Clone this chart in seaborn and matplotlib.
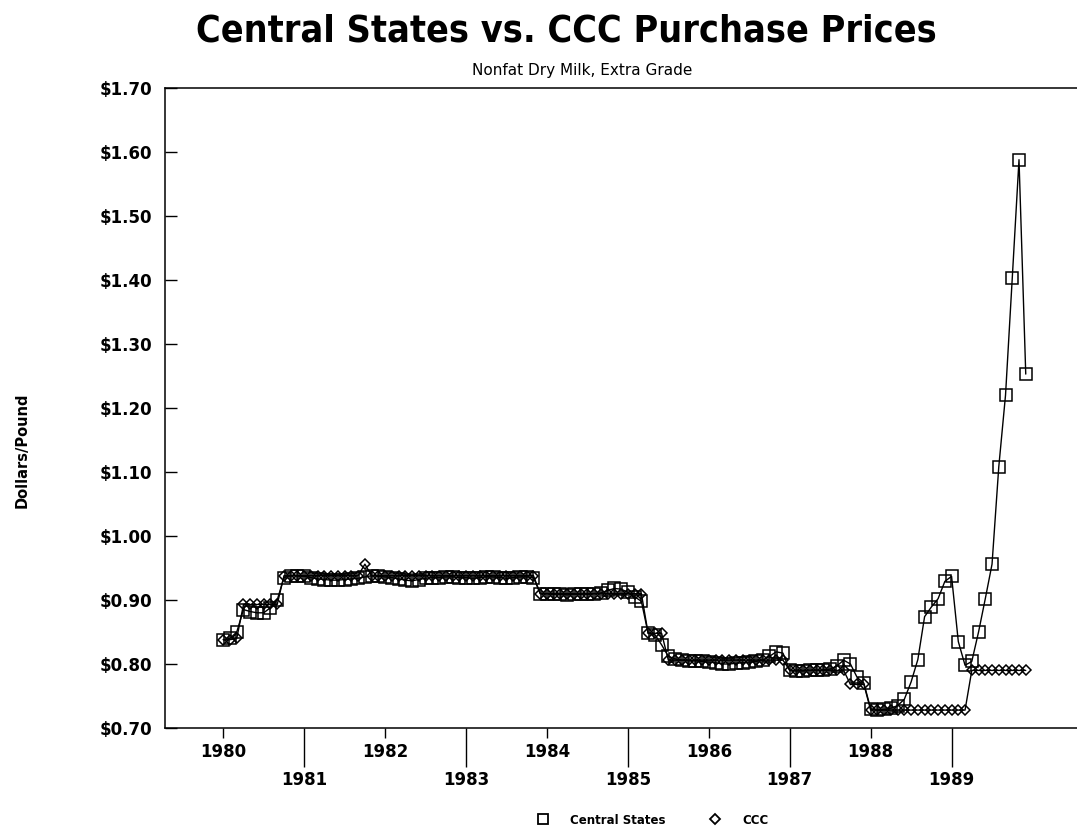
import pandas as pd
import seaborn as sns
import matplotlib.pyplot as plt
from matplotlib.lines import Line2D
from matplotlib.ticker import FixedLocator, FuncFormatter

# monthly prices, Jan 1980 .. Dec 1989 ($/lb)
years = [1980, 1981, 1982, 1983, 1984, 1985, 1986, 1987, 1988, 1989]
months = list(range(1, 13))

central_states = [
    0.838, 0.840, 0.850, 0.885, 0.882, 0.880, 0.880, 0.888, 0.900, 0.935, 0.938, 0.938,  # 1980
    0.937, 0.935, 0.933, 0.932, 0.931, 0.931, 0.932, 0.933, 0.934, 0.936, 0.938, 0.937,  # 1981
    0.936, 0.935, 0.933, 0.931, 0.930, 0.932, 0.934, 0.935, 0.935, 0.936, 0.936, 0.935,  # 1982
    0.935, 0.934, 0.935, 0.936, 0.936, 0.935, 0.934, 0.935, 0.936, 0.936, 0.935, 0.910,  # 1983
    0.910, 0.909, 0.909, 0.908, 0.909, 0.909, 0.909, 0.910, 0.911, 0.915, 0.918, 0.917,  # 1984
    0.912, 0.905, 0.898, 0.848, 0.846, 0.830, 0.812, 0.808, 0.806, 0.805, 0.805, 0.804,  # 1985
    0.803, 0.802, 0.800, 0.800, 0.801, 0.802, 0.803, 0.804, 0.806, 0.812, 0.819, 0.817,  # 1986
    0.790, 0.789, 0.789, 0.790, 0.790, 0.791, 0.792, 0.797, 0.806, 0.800, 0.779, 0.770,  # 1987
    0.730, 0.728, 0.729, 0.731, 0.735, 0.745, 0.772, 0.807, 0.874, 0.889, 0.902, 0.929,  # 1988
    0.937, 0.835, 0.798, 0.804, 0.850, 0.902, 0.956, 1.108, 1.220, 1.403, 1.588, 1.253,  # 1989
]

ccc = [
    0.838, 0.838, 0.840, 0.893, 0.893, 0.893, 0.893, 0.893, 0.893, 0.938, 0.938, 0.938,  # 1980
    0.938, 0.938, 0.938, 0.938, 0.938, 0.938, 0.938, 0.938, 0.938, 0.956, 0.938, 0.938,  # 1981
    0.938, 0.938, 0.938, 0.938, 0.938, 0.938, 0.938, 0.938, 0.938, 0.938, 0.938, 0.938,  # 1982
    0.938, 0.938, 0.938, 0.938, 0.938, 0.938, 0.938, 0.938, 0.938, 0.938, 0.938, 0.910,  # 1983
    0.910, 0.910, 0.910, 0.910, 0.910, 0.910, 0.910, 0.910, 0.910, 0.910, 0.910, 0.910,  # 1984
    0.910, 0.910, 0.910, 0.848, 0.848, 0.848, 0.806, 0.806, 0.806, 0.806, 0.806, 0.806,  # 1985
    0.806, 0.806, 0.806, 0.806, 0.806, 0.806, 0.806, 0.806, 0.806, 0.806, 0.806, 0.806,  # 1986
    0.790, 0.790, 0.790, 0.790, 0.790, 0.790, 0.790, 0.790, 0.790, 0.768, 0.768, 0.768,  # 1987
    0.728, 0.728, 0.728, 0.728, 0.728, 0.728, 0.728, 0.728, 0.728, 0.728, 0.728, 0.728,  # 1988
    0.728, 0.728, 0.728, 0.790, 0.790, 0.790, 0.790, 0.790, 0.790, 0.790, 0.790, 0.790,  # 1989
]

y_ticks = [0.70, 0.80, 0.90, 1.00, 1.10, 1.20, 1.30, 1.40, 1.50, 1.60, 1.70]

sns.set_style("white")
plt.rcParams['font.family'] = ['DejaVu Sans']
plt.rcParams['text.color'] = 'black'
plt.rcParams['xtick.color'] = 'black'
plt.rcParams['ytick.color'] = 'black'

t = [y + (m - 1) / 12 for y in years for m in months]
df_cs = pd.DataFrame({'t': t, 'price': central_states})
df_ccc = pd.DataFrame({'t': t, 'price': ccc})

fig = plt.figure(figsize=(10.77, 8.38), dpi=100)
ax = fig.add_axes([165 / 1077, 1 - 728 / 838, 912 / 1077, 640 / 838])

sns.lineplot(data=df_ccc, x='t', y='price', ax=ax, color='black', lw=1.0,
             marker='D', markersize=5.5, markerfacecolor='none',
             markeredgecolor='black', markeredgewidth=1.1)
sns.lineplot(data=df_cs, x='t', y='price', ax=ax, color='black', lw=1.0,
             marker='s', markersize=8, markerfacecolor='none',
             markeredgecolor='black', markeredgewidth=1.1)

ax.set_xlim(1979.28, 1990.55)
ax.set_ylim(0.70, 1.70)
ax.set_xlabel('')
ax.set_ylabel('')

for s in ['left', 'top', 'bottom']:
    ax.spines[s].set_color('black')
    ax.spines[s].set_linewidth(1.1)
ax.spines['right'].set_visible(False)

ax.yaxis.set_major_locator(FixedLocator(y_ticks))
ax.yaxis.set_major_formatter(FuncFormatter(lambda v, p: f"${v:.2f}"))
ax.tick_params(axis='y', direction='in', length=8.5, width=1.0, pad=9,
               labelsize=12, left=True)
for lab in ax.get_yticklabels():
    lab.set_fontweight('bold')

# even years on the first row, odd years on a lower row with long ticks
ax.xaxis.set_major_locator(FixedLocator(years[0::2]))
ax.xaxis.set_minor_locator(FixedLocator(years[1::2]))
ax.xaxis.set_major_formatter(FuncFormatter(lambda v, p: f"{int(round(v))}"))
ax.xaxis.set_minor_formatter(FuncFormatter(lambda v, p: f"{int(round(v))}"))
ax.tick_params(axis='x', which='major', direction='out', length=7, width=1.0,
               pad=4, labelsize=12, bottom=True)
ax.tick_params(axis='x', which='minor', direction='out', length=28, width=1.0,
               pad=3, labelsize=12, bottom=True)
for lab in ax.get_xticklabels(which='both'):
    lab.set_fontweight('bold')

fig.text(566 / 1077, 1 - 32 / 838, 'Central States vs. CCC Purchase Prices',
         ha='center', va='center', fontsize=27, fontweight='bold',
         fontstretch='condensed', family=['DejaVu Sans'])
fig.text(582 / 1077, 1 - 70 / 838, 'Nonfat Dry Milk, Extra Grade',
         ha='center', va='center', fontsize=11)
fig.text(22 / 1077, 1 - 450 / 838, 'Dollars/Pound', rotation=90,
         ha='center', va='center', fontsize=10.5, fontweight='bold')

handles = [
    Line2D([], [], ls='none', marker='s', markersize=7, markerfacecolor='none',
           markeredgecolor='black', markeredgewidth=1.3),
    Line2D([], [], ls='none', marker='D', markersize=5, markerfacecolor='none',
           markeredgecolor='black', markeredgewidth=1.3),
]
fig.legend(handles, ['Central States', 'CCC'], loc='center', ncol=2,
           bbox_to_anchor=(650 / 1077, 1 - 820 / 838), frameon=False,
           prop={'size': 8.5, 'weight': 'bold'}, handletextpad=1.3,
           columnspacing=3.2)

fig.savefig('out.png', dpi=100)
